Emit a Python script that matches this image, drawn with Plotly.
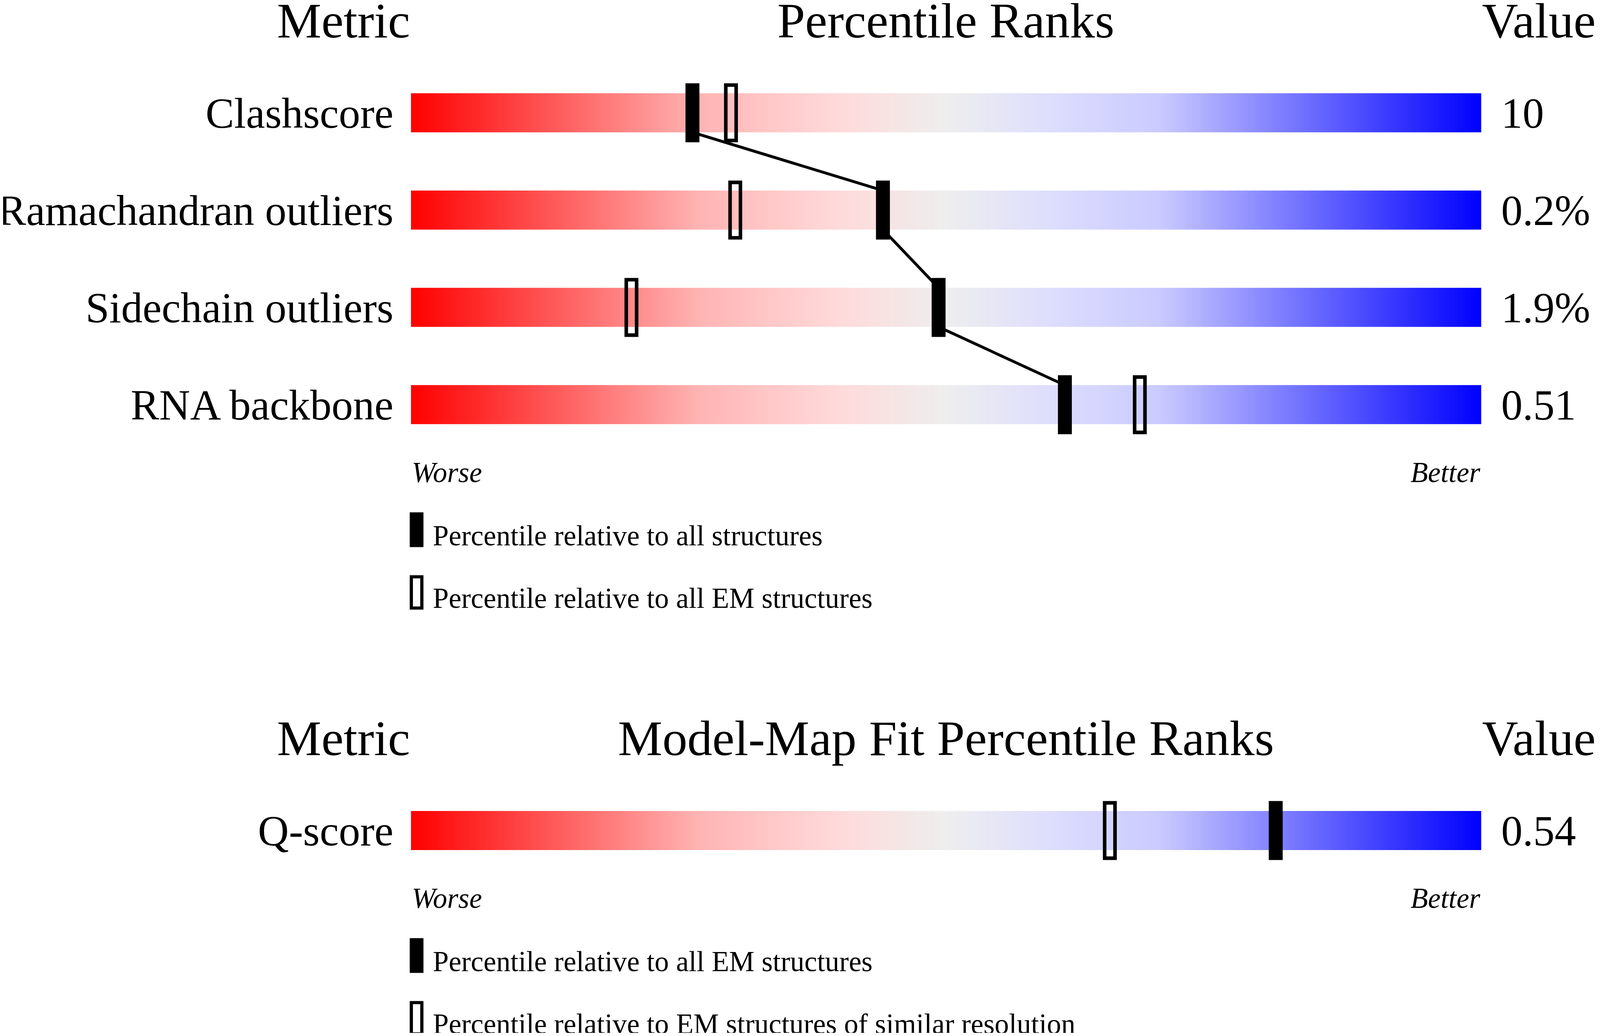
import numpy as np
import plotly.graph_objects as go

# data
metrics = ["Clashscore", "Ramachandran outliers", "Sidechain outliers", "RNA backbone"]
metric_values = ["10", "0.2%", "1.9%", "0.51"]
pct_all = [26.3, 44.1, 49.3, 61.1]        # filled marker: relative to all structures
pct_em = [29.9, 30.3, 20.6, 68.1]         # open marker: relative to all EM structures

fit_metrics = ["Q-score"]
fit_values = ["0.54"]
fit_pct_all_em = [80.8]                   # filled marker: relative to all EM structures
fit_pct_similar = [65.3]                  # open marker: EM structures of similar resolution

# reference is 4485x2652; the page viewport comes out as 4096x2652 css px,
# so positions are kept as fractions of the reference and sizes scaled by SX
REF_W, REF_H = 4485, 2652
VIEW_W, VIEW_H = 4096, 2652
BODY = 8                                   # default body margin of the html page
W, H = VIEW_W - 2 * BODY, VIEW_H - 2 * BODY
SX = VIEW_W / REF_W
SY = VIEW_H / REF_H
FONT = "Liberation Serif, Times New Roman, serif"

# gradient used for the slider bars (worse -> better)
slider_scale = [
    [0.00, "rgb(255,0,0)"],
    [0.27, "rgb(255,180,180)"],
    [0.40, "rgb(255,218,218)"],
    [0.50, "rgb(238,238,238)"],
    [0.60, "rgb(221,221,254)"],
    [0.70, "rgb(202,202,255)"],
    [1.00, "rgb(0,0,255)"],
]

# geometry in reference pixels
BAR_L, BAR_R = 1152, 4152
ROW_PX = 249.1
BAR_HALF = 50 / ROW_PX
MARK_HALF = 75.5 / ROW_PX
OPEN_LW = 10                                # open marker outline


def fs(px):
    return px * SX


def px_x(px):
    return (px / REF_W * VIEW_W - BODY) / W


def px_y(py):
    return 1 - (py / REF_H * VIEW_H - BODY) / H


def slider_traces(rows, p_all, p_open, xa, ya):
    traces = []
    edges = np.linspace(0, 100, 401)
    centers = (edges[:-1] + edges[1:]) / 2
    y_edges, z = [], []
    for i, r in enumerate(rows):
        y_edges += [r - BAR_HALF, r + BAR_HALF]
        z.append(list(centers))
        if i < len(rows) - 1:
            z.append([None] * len(centers))
    traces.append(go.Heatmap(x=edges, y=y_edges, z=z, zmin=0, zmax=100,
                             colorscale=slider_scale, showscale=False,
                             hoverinfo="skip", xaxis=xa, yaxis=ya))
    # connecting line between filled markers, bar bottom -> next bar top
    lx, ly = [], []
    for i in range(len(rows) - 1):
        lx += [p_all[i], p_all[i + 1], None]
        ly += [rows[i] + BAR_HALF, rows[i + 1] - BAR_HALF, None]
    if lx:
        traces.append(go.Scatter(x=lx, y=ly, mode="lines",
                                 line=dict(color="black", width=fs(8)),
                                 hoverinfo="skip", xaxis=xa, yaxis=ya))
    lw_units = fs(OPEN_LW) / (ROW_PX * SY)
    traces.append(go.Bar(x=p_open, y=[2 * MARK_HALF - lw_units] * len(rows),
                         base=[r - MARK_HALF + lw_units / 2 for r in rows],
                         width=0.967, marker=dict(color="rgba(0,0,0,0)",
                                                  line=dict(color="black", width=fs(OPEN_LW))),
                         hoverinfo="skip", xaxis=xa, yaxis=ya))
    traces.append(go.Bar(x=p_all, y=[2 * MARK_HALF] * len(rows),
                         base=[r - MARK_HALF for r in rows],
                         width=1.3, marker=dict(color="black", line=dict(width=0)),
                         hoverinfo="skip", xaxis=xa, yaxis=ya))
    return traces


rows_top = list(range(len(metrics)))
rows_bot = list(range(len(fit_metrics)))

fig = go.Figure()
for t in slider_traces(rows_top, pct_all, pct_em, "x", "y"):
    fig.add_trace(t)
for t in slider_traces(rows_bot, fit_pct_all_em, fit_pct_similar, "x2", "y2"):
    fig.add_trace(t)
# invisible anchors so the right-hand value axes get drawn
fig.add_trace(go.Scatter(x=[0] * len(rows_top), y=rows_top, mode="markers",
                         marker=dict(opacity=0), hoverinfo="skip", xaxis="x", yaxis="y3"))
fig.add_trace(go.Scatter(x=[0] * len(rows_bot), y=rows_bot, mode="markers",
                         marker=dict(opacity=0), hoverinfo="skip", xaxis="x2", yaxis="y4"))

top_c, bot_c = 288.7, 2126.0
dom_top = [px_y(top_c + (len(metrics) - 0.5) * ROW_PX), px_y(top_c - 0.5 * ROW_PX)]
dom_bot = [px_y(bot_c + 0.5 * ROW_PX), px_y(bot_c - 0.5 * ROW_PX)]
xdom = [px_x(BAR_L), px_x(BAR_R)]

label_font = dict(family=FONT, size=fs(120), color="black")
common_y = dict(showgrid=False, zeroline=False, showline=False, ticks="",
                automargin=False, tickfont=label_font, fixedrange=True)

fig.update_layout(
    width=W, height=H,
    margin=dict(l=0, r=0, t=0, b=0),
    paper_bgcolor="white", plot_bgcolor="white",
    showlegend=False, barmode="overlay",
    xaxis=dict(domain=xdom, range=[0, 100], visible=False, anchor="y"),
    xaxis2=dict(domain=xdom, range=[0, 100], visible=False, anchor="y2"),
    yaxis=dict(domain=dom_top, range=[len(metrics) - 0.5, -0.5], anchor="x",
               tickvals=rows_top, ticktext=metrics, ticklabelstandoff=44, **common_y),
    yaxis3=dict(range=[len(metrics) - 0.5, -0.5], overlaying="y", side="right", anchor="x",
                tickvals=rows_top, ticktext=metric_values, ticklabelstandoff=50, **common_y),
    yaxis2=dict(domain=dom_bot, range=[0.5, -0.5], anchor="x2",
                tickvals=rows_bot, ticktext=fit_metrics, ticklabelstandoff=44, **common_y),
    yaxis4=dict(range=[0.5, -0.5], overlaying="y2", side="right", anchor="x2",
                tickvals=rows_bot, ticktext=fit_values, ticklabelstandoff=50, **common_y),
)

head_font = dict(family=FONT, size=fs(140), color="black")
small_font = dict(family=FONT, size=fs(80), color="black", style="italic")
leg_font = dict(family=FONT, size=fs(80), color="black")

panels = [
    (top_c, 1036.0, "Percentile Ranks",
     ["Percentile relative to all structures", "Percentile relative to all EM structures"]),
    (bot_c, bot_c, "Model-Map Fit Percentile Ranks",
     ["Percentile relative to all EM structures",
      "Percentile relative to EM structures of similar resolution"]),
]
for first_c, last_c, title, leg_texts in panels:
    hy = first_c - 236
    fig.add_annotation(text="Metric", xref="paper", yref="paper", x=px_x(BAR_L), y=px_y(hy),
                       xanchor="right", yanchor="middle", showarrow=False, font=head_font)
    fig.add_annotation(text=title, xref="paper", yref="paper", x=px_x((BAR_L + BAR_R) / 2),
                       y=px_y(hy), xanchor="center", yanchor="middle", showarrow=False,
                       font=head_font)
    fig.add_annotation(text="Value", xref="paper", yref="paper", x=px_x(BAR_R), y=px_y(hy),
                       xanchor="left", yanchor="middle", showarrow=False, font=head_font)
    wy = last_c + 173
    fig.add_annotation(text="Worse", xref="paper", yref="paper", x=px_x(BAR_L), y=px_y(wy),
                       xanchor="left", yanchor="middle", showarrow=False, font=small_font)
    fig.add_annotation(text="Better", xref="paper", yref="paper", x=px_x(BAR_R), y=px_y(wy),
                       xanchor="right", yanchor="middle", showarrow=False, font=small_font)
    for k, txt in enumerate(leg_texts):
        cy = last_c + 320 + 160.5 * k
        fig.add_annotation(text=txt, xref="paper", yref="paper", x=px_x(1211.5),
                           y=px_y(cy + 15), xanchor="left", yanchor="middle",
                           showarrow=False, font=leg_font)
        if k == 0:
            fig.add_shape(type="rect", xref="paper", yref="paper",
                          x0=px_x(1148.5), x1=px_x(1187), y0=px_y(cy + 44.5), y1=px_y(cy - 44.5),
                          fillcolor="black", line=dict(width=0))
        else:
            fig.add_shape(type="rect", xref="paper", yref="paper",
                          x0=px_x(1153), x1=px_x(1182.5), y0=px_y(cy + 40), y1=px_y(cy - 40),
                          fillcolor="white", line=dict(color="black", width=fs(9)))

fig.write_html("out.html")
